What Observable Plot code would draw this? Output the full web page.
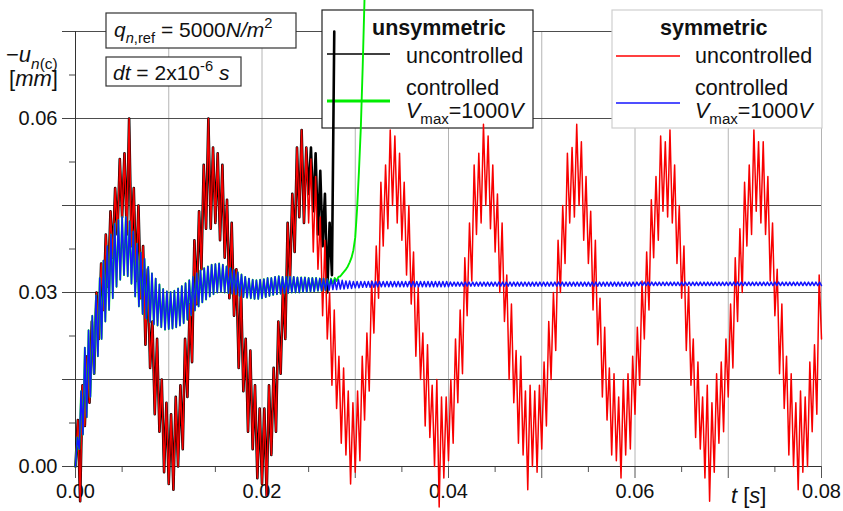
<!DOCTYPE html>
<html><head><meta charset="utf-8">
<script src="https://cdn.jsdelivr.net/npm/d3@7"></script>
<script src="https://cdn.jsdelivr.net/npm/@observablehq/plot@0.6"></script>
<style>
html,body{margin:0;padding:0;background:#fff;}
#chart{position:relative;width:843px;height:511px;overflow:hidden;}
</style></head><body><div id="chart"></div>
<script>
// ---------- data (displacement in micrometres) ----------
// symmetric, uncontrolled (red): samples every 0.25 ms from t = 0
const redStepMs = 0.25;
const redUm = [0,8,-6,14,7,19,11,25,16,30,22,35,27,40,31,44,36,48,40,53,43,
54,40,60,38,48,32,45,29,38,21,34,17,25,9,22,6,15,-1,11,-3,9,-4,12,0,14,3,22,12,28,18,39,28,44,34,52,41,60,41,55,
42,54,39,52,36,46,29,42,26,34,17,31,13,22,6,20,3,14,-2,10,-3,10,-5,14,2,17,6,25,16,31,22,42,32,47,37,55,43,58,42,
55,42,53,37,50,34,43,26,39,22,30,14,27,10,19,4,17,2,13,-3,11,-1,13,1,19,8,23,13,32,23,38,29,49,38,52,41,58,45,
57,42,54,39,49,33,45,28,37,19,31,15,23,7,21,5,14,0,15,-7,12,-2,12,1,15,4,22,11,27,16,36,26,42,32,52,40,54,42,59,
45,57,41,52,37,47,30,42,25,33,15,28,11,20,4,19,2,13,-4,14,0,13,-1,14,3,18,7,25,15,30,20,39,30,45,35,54,42,55,43,
59,45,56,39,50,35,44,27,39,21,29,12,24,8,17,2,16,1,12,-2,15,2,16,3,19,9,24,14,32,22,37,27,46,36,50,39,57,44,
56,43,58,42,52,35,45,29,38,20,31,14,22,5,18,3,12,-2,14,-6,11,-1,16,4,18,6,22,12,28,17,36,25,41,30,49,38,52,40,58,
44,56,42,56,40,50,32,42,26,34,16,28,10,19,2,16,0,11,-4,13,-1,12,0,18,6,21,9,33,22];
// unsymmetric, uncontrolled (black): follows the red curve until 25 ms, then diverges
const blackSplitMs = 25;
const blackTailUm = [47,55,44,54,40,51,38,47,30,42,33,75];
// symmetric, controlled Vmax = 1000 V (blue): samples every 0.2 ms from t = 0
const blueStepMs = 0.2;
const blueUm = [0,5,3,13,5.5,20.5,8.5,23.5,12,26,16,29.5,19,32.5,22,35.5,25,38,27,40,29,
41.8,31,42.5,32.2,43,33,43,32.8,42.3,31.5,40.5,29.3,38.4,27.6,36.9,26.3,35.8,25.5,34.4,24.9,
33.3,24.5,32.4,24.3,31.4,24.0,30.6,23.6,30.2,23.7,30.1,23.8,30.3,24.0,30.7,24.3,31.1,24.7,31.6,25.3,
32.1,26.1,32.7,26.9,33.3,27.6,33.8,28.3,34.2,28.8,34.5,29.3,34.8,29.7,34.9,30.0,35.0,30.1,34.8,30.0,
34.5,29.9,34.2,29.8,33.9,29.7,33.5,29.4,33.1,29.2,32.7,29.1,32.4,29.0,32.2,28.9,32.1,28.9,32.2,29.0,
32.3,29.2,32.5,29.4,32.5,29.6,32.7,29.7,32.8,29.8,32.7,29.9,32.7,29.9,32.7,30.0,32.7,30.0,32.6,30.0,
32.6,30.1,32.6,30.1,32.5,30.2,32.5,30.2,32.5,30.3,32.4,30.3,32.4,30.4,32.3,30.4,32.3,30.5,32.2,30.5,
32.2,30.6,32.1,30.6,32.0,30.7,32.0,30.7,31.9,30.8,31.9,30.8,31.9,30.9,31.9,30.9,31.9,30.9,31.9,30.9,
31.9,31.0,31.9,31.0,31.9,31.0,31.9,31.0,31.9,31.0,31.9,31.0,31.9,31.0,31.9,31.0,31.9,31.0,31.9,31.0,
31.9,31.0,31.9,31.0,31.9,31.0,31.9,31.0,31.9,31.0,31.9,31.0,31.9,31.0,31.9,31.0,31.9,31.0,31.9,31.0,
31.8,31.1,31.8,31.1,31.8,31.1,31.8,31.1,31.8,31.1,31.8,31.1,31.8,31.1,31.8,31.1,31.8,31.1,31.8,31.1,
31.8,31.1,31.8,31.1,31.8,31.1,31.8,31.1,31.8,31.1,31.8,31.1,31.8,31.1,31.8,31.1,31.8,31.1,31.8,31.1,
31.8,31.1,31.8,31.1,31.8,31.1,31.8,31.1,31.8,31.1,31.8,31.1,31.8,31.1,31.8,31.1,31.8,31.1,31.8,31.1,
31.8,31.1,31.8,31.1,31.8,31.1,31.8,31.1,31.8,31.1,31.8,31.1,31.8,31.1,31.8,31.1,31.8,31.1,31.8,31.1,
31.8,31.1,31.8,31.1,31.8,31.1,31.8,31.1,31.8,31.1,31.8,31.1,31.8,31.1,31.8,31.1,31.8,31.1,31.8,31.1,
31.8,31.2,31.8,31.2,31.8,31.2,31.8,31.2,31.8,31.2,31.8,31.2,31.8,31.2,31.8,31.2,31.8,31.2,31.8,31.2,
31.8,31.2,31.8,31.2,31.8,31.2,31.8,31.2,31.8,31.2,31.8,31.2,31.8,31.2,31.8,31.2,31.8,31.2,31.8,31.2,
31.8,31.2,31.8,31.2,31.8,31.2,31.8,31.2,31.8,31.2,31.8,31.2,31.8,31.2,31.8,31.2,31.8,31.2,31.8,31.2,
31.8,31.2,31.8,31.2,31.8,31.2,31.8,31.2,31.8,31.2,31.8,31.2,31.8,31.2,31.8,31.2,31.8,31.2,31.8,31.2,
31.8,31.2,31.8,31.2,31.8,31.2,31.8,31.2,31.8,31.2,31.8,31.2,31.8,31.2,31.8,31.2,31.8,31.2,31.8,31.2];
// unsymmetric, controlled Vmax = 1000 V (green): follows blue until 27.0 ms, then rises
const greenSplitMs = 27.0;
const greenRiseUm = [31.2,32.4,31.5,32.5,32.0,32.7,32.8,33.2,33.6,34.0,34.5,35.2,36.0,37.3,39.5,44.5,51,58.5,69,81];

// axes
const xGrid = [0, 0.01, 0.02, 0.03, 0.04, 0.05, 0.06, 0.07, 0.08];
const xLabels = [0, 0.02, 0.04, 0.06, 0.08];
const xMinor = [0.005, 0.015, 0.025, 0.035, 0.045, 0.055, 0.065, 0.075];
const yGrid = [0, 0.015, 0.03, 0.045, 0.06, 0.075];
const yLabels = [0, 0.03, 0.06];
const yMinor = [0.0075, 0.0225, 0.0375, 0.0525, 0.0675];

// ---------- build tables ----------
const red = redUm.map((u, i) => ({t: i * redStepMs / 1000, u: u / 1000}));
const nBlackShared = Math.round(blackSplitMs / redStepMs);
const black = red.slice(0, nBlackShared).concat(
  blackTailUm.map((u, j) => ({t: (blackSplitMs + j * redStepMs) / 1000, u: u / 1000})));
const blue = blueUm.map((u, i) => ({t: i * blueStepMs / 1000, u: u / 1000}));
const nGreenShared = Math.round(greenSplitMs / blueStepMs) + 1;
const green = blue.slice(0, nGreenShared).concat(
  greenRiseUm.map((u, j) => ({t: (greenSplitMs + (j + 1) * blueStepMs) / 1000, u: u / 1000})));

const FONT = "'Liberation Sans', Arial, Helvetica, sans-serif";
const fmt = d3.format(".2f");

const plot = Plot.plot({
  width: 843, height: 511,
  marginLeft: 75, marginRight: 22, marginTop: 31, marginBottom: 45,
  x: {domain: [0, 0.08]},
  y: {domain: [0, 0.075]},
  style: {fontFamily: FONT, fontSize: "20px", background: "white", color: "#111", overflow: "visible"},
  marks: [
    Plot.gridX(xGrid, {stroke: "#b4b4b4", strokeOpacity: 1, strokeWidth: 1}),
    Plot.gridY(yGrid, {stroke: "#4d4d4d", strokeOpacity: 1, strokeWidth: 1}),
    Plot.axisX(xGrid, {tickSize: 12, tickPadding: 5, stroke: "#555", label: null,
      tickFormat: d => xLabels.includes(d) ? fmt(d) : ""}),
    Plot.axisX(xMinor, {tickSize: 6, stroke: "#555", label: null, tickFormat: () => ""}),
    Plot.axisY(yGrid, {tickSize: 13, tickPadding: 5, stroke: "#444", label: null,
      tickFormat: d => yLabels.includes(d) ? fmt(d) : ""}),
    Plot.axisY(yMinor, {tickSize: 6, stroke: "#444", label: null, tickFormat: () => ""}),
    Plot.ruleX([0], {stroke: "#333"}),
    Plot.ruleY([0], {stroke: "#333"}),
    Plot.line(black, {x: "t", y: "u", stroke: "#000", strokeWidth: 2.6}),
    Plot.line(red, {x: "t", y: "u", stroke: "#f80000", strokeWidth: 1.5}),
    Plot.line(green, {x: "t", y: "u", stroke: "#00ee00", strokeWidth: 1.9}),
    Plot.line(blue, {x: "t", y: "u", stroke: "#1414ff", strokeWidth: 1.5})
  ]
});

// ---------- annotation boxes, legends and titles ----------
const ann = d3.create("svg:g").attr("font-family", FONT).attr("fill", "#111")
  .attr("text-anchor", "start");
function box(x, y, w, h, stroke) {
  ann.append("rect").attr("x", x).attr("y", y).attr("width", w).attr("height", h)
    .attr("fill", "white").attr("stroke", stroke).attr("stroke-width", 1.2);
}
function sample(x1, x2, y, color, w) {
  ann.append("line").attr("x1", x1).attr("x2", x2).attr("y1", y).attr("y2", y)
    .attr("stroke", color).attr("stroke-width", w);
}
function rich(x, y, size, parts) {
  const t = ann.append("text").attr("x", x).attr("y", y).attr("font-size", size)
    .attr("text-anchor", "start").style("white-space", "pre");
  let shift = 0;
  for (const [s, st = ""] of parts) {
    const f = st.split(" ");
    const sub = f.includes("sub"), sup = f.includes("sup");
    const target = sub ? size * 0.3 : sup ? -size * 0.42 : 0;
    const ts = t.append("tspan").text(s).attr("dy", target - shift);
    shift = target;
    if (sub || sup) ts.attr("font-size", size * 0.7);
    if (f.includes("i")) ts.attr("font-style", "italic");
    if (f.includes("b")) ts.attr("font-weight", "bold");
  }
}
// parameter boxes
box(106, 13, 190, 35, "#333");
rich(114, 37, 21, [["q", "i"], ["n", "i sub"], [",ref", "sub"], [" = 5000"], ["N/m", "i"], ["2", "sup"]]);
box(106, 57, 135, 29, "#333");
rich(113, 80, 21, [["dt", "i"], [" = 2x10"], ["-6", "sup"], [" "], ["s", "i"]]);
// unsymmetric legend
box(322, 10, 211, 118, "#222");
rich(372, 35, 21.5, [["unsymmetric", "b"]]);
sample(327, 390, 54, "#000", 1.6);
rich(406, 63, 21.5, [["uncontrolled"]]);
sample(327, 390, 101, "#00ee00", 3);
rich(406, 95, 21.5, [["controlled"]]);
rich(406, 118, 21.5, [["V", "i"], ["max", "sub"], ["=1000"], ["V", "i"]]);
// symmetric legend
box(612, 10, 210, 118, "#cfcfcf");
rich(660, 35, 21.5, [["symmetric", "b"]]);
sample(616, 680, 56, "#ff0000", 1.5);
rich(695, 63, 21.5, [["uncontrolled"]]);
sample(616, 680, 103, "#1414ff", 1.5);
rich(695, 95, 21.5, [["controlled"]]);
rich(695, 118, 21.5, [["V", "i"], ["max", "sub"], ["=1000"], ["V", "i"]]);
// axis titles
rich(6, 62, 22, [["\u2212"], ["u", "i"], ["n", "i sub"], ["(c)", "sub"]]);
rich(9, 86, 22, [["["], ["mm", "i"], ["]"]]);
rich(731, 503, 22, [["t", "i"], [" ["], ["s", "i"], ["]"]]);

const firstLine = plot.querySelector('g[aria-label="line"]');
plot.insertBefore(ann.node(), firstLine);

document.getElementById("chart").appendChild(plot);
</script></body></html>
